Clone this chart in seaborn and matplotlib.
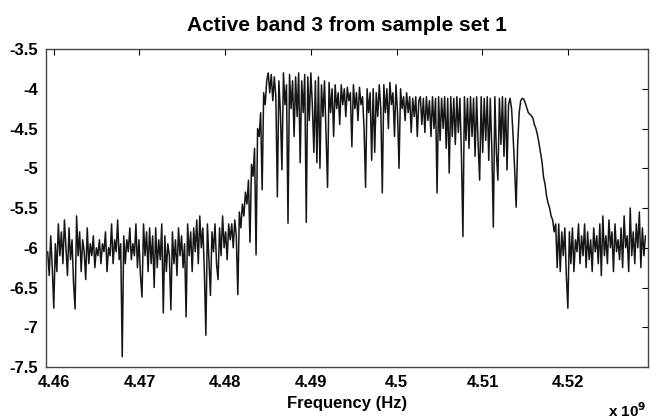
import numpy as np
import pandas as pd
import seaborn as sns
import matplotlib.pyplot as plt
from matplotlib.ticker import FuncFormatter

# frequency sweep (Hz)
freq_start = 4.4593e9
freq_stop = 4.5290e9

noise_left = [
    -6.05, -6.35, -5.85, -6.25, -6.76, -5.95, -6.3, -5.7, -6.1, -5.8,
    -6.2, -5.65, -6.0, -6.35, -5.75, -6.15, -5.9, -6.45, -6.77, -5.6,
    -6.1, -5.8, -6.3, -5.9, -6.05, -6.4, -5.75, -6.2, -5.95, -6.1,
    -5.85, -6.25, -6.0, -6.1, -5.9, -6.2, -5.95, -6.05, -5.8, -6.3,
    -6.0, -6.1, -5.7, -6.2, -5.9, -6.05, -5.65, -6.15, -5.95, -7.37,
    -5.85, -6.2, -5.9, -6.05, -5.75, -6.15, -5.95, -6.1, -5.7, -6.25,
    -5.9, -6.35, -6.62, -5.7, -6.1, -5.8, -6.3, -5.75, -6.2, -5.85,
    -6.5, -5.75, -6.25, -5.9, -6.15, -5.7, -6.82, -5.85, -6.3, -5.95,
    -6.1, -6.78, -5.8, -6.2, -5.9, -6.35, -5.75, -6.1, -5.85, -6.25,
    -5.95, -6.87, -5.7, -6.1, -5.8, -6.3, -5.75, -6.05, -5.65, -6.2,
    -5.6, -6.0, -5.75, -6.3, -7.10, -5.7, -6.15, -6.6, -5.8, -6.05,
    -5.7, -6.2, -6.4, -5.75, -6.1, -5.6, -6.0, -5.8, -6.15, -5.7,
]
rise = [
    -5.9, -5.7, -6.0, -5.65, -5.85, -6.59, -5.55, -5.75, -5.45, -5.6,
    -5.3, -5.45, -5.15, -5.93, -4.95, -5.1, -4.75, -6.09, -4.5, -4.6,
    -4.3, -5.27, -4.05, -4.2, -3.9,
]
band_top = [
    -3.8, -4.05, -3.82, -4.15, -3.85, -4.1, -5.36, -3.9, -4.3, -5.02,
    -3.8, -4.2, -3.95, -5.69, -3.82, -4.25, -3.9, -4.6, -3.85, -4.35,
    -3.8, -4.93, -3.9, -4.3, -3.82, -5.68, -3.85, -4.4, -3.8, -4.2,
    -4.8, -3.9, -4.93, -3.85, -5.0, -3.95, -4.35, -3.9, -4.55, -5.24,
    -3.92, -4.3, -4.0, -4.6, -3.95, -4.25, -4.05, -4.45, -3.95, -4.2,
    -4.0, -4.35, -3.98, -4.15, -4.05, -4.73, -3.95, -4.25, -4.05, -4.4,
    -3.98, -4.2, -4.1, -4.5, -5.24, -4.0, -4.3, -4.05, -4.9, -4.0,
    -4.8, -4.05, -4.35, -3.95, -4.25, -5.31, -3.95, -4.3, -4.0, -4.5,
    -3.92, -4.2, -4.05, -4.6, -3.95, -4.3, -5.0, -4.0, -4.25, -4.1,
    -4.4, -4.05, -4.3, -4.1, -4.55, -4.12, -4.35, -4.1, -4.6, -4.15,
]
comb = [
    -4.1, -4.45, -4.12, -4.55, -4.1, -4.4, -4.15, -4.6, -4.1, -4.5,
    -4.12, -5.31, -4.1, -4.65, -4.12, -4.5, -4.1, -4.75, -4.12, -5.06,
    -4.1, -4.6, -4.12, -4.7, -4.1, -4.55, -4.12, -4.8, -5.86, -4.1,
    -4.65, -4.12, -4.75, -4.1, -4.6, -4.12, -4.85, -4.1, -4.7, -5.15,
    -4.1, -4.8, -4.12, -4.65, -4.1, -4.9, -4.12, -4.75, -5.74, -4.1,
    -4.8, -5.15, -4.12, -4.7, -4.1, -4.85, -4.12, -5.02, -4.2, -4.12,
    -4.25, -4.6, -5.0, -5.49, -4.7, -4.3, -4.15, -4.12, -4.13, -4.18,
    -4.24, -4.3,
]
fall = [
    -4.32, -4.34, -4.37, -4.45, -4.5, -4.58, -4.68, -4.8, -4.92, -5.11,
    -5.2, -5.35, -5.44, -5.5, -5.6, -5.65, -5.8, -5.7,
]
noise_right = [
    -6.25, -5.7, -6.3, -5.8, -6.1, -5.75, -6.35, -6.76, -5.8, -6.2,
    -5.75, -6.3, -5.9, -6.05, -5.7, -6.2, -5.85, -6.1, -5.7, -6.25,
    -5.8, -6.15, -5.9, -6.3, -5.75, -6.05, -5.85, -6.2, -5.7, -6.35,
    -5.6, -6.1, -5.85, -6.2, -5.65, -6.0, -5.8, -6.3, -5.7, -6.05,
    -5.9, -6.15, -5.75, -6.25, -5.6, -6.0, -5.85, -6.3, -5.5, -6.1,
    -5.8, -6.2, -5.7, -6.0, -5.55, -6.25, -5.75, -6.1, -5.85,
]

level = noise_left + rise + band_top + comb + fall + noise_right
freq = np.linspace(freq_start, freq_stop, len(level))
df = pd.DataFrame({'freq': freq, 'level': level})

sns.set_style('white')
plt.rcParams['font.family'] = ['Liberation Sans', 'DejaVu Sans']
plt.rcParams['font.weight'] = 'bold'
plt.rcParams['axes.unicode_minus'] = False
plt.rcParams['text.color'] = 'black'

fig = plt.figure(figsize=(6.56, 4.2), dpi=100)
ax = fig.add_axes([0.0701, 0.1262, 0.9177, 0.7571])

sns.lineplot(data=df, x='freq', y='level', ax=ax, color='#151515',
             linewidth=1.1, estimator=None, sort=False)

ax.set_xlim(4.4591e9, 4.5293e9)
ax.set_ylim(-7.5, -3.5)
ax.set_xticks([4.46e9, 4.47e9, 4.48e9, 4.49e9, 4.50e9, 4.51e9, 4.52e9])
ax.set_yticks(np.arange(-7.5, -3.49, 0.5))
ax.xaxis.set_major_formatter(FuncFormatter(lambda v, p: '%g' % round(v / 1e9, 4)))
ax.yaxis.set_major_formatter(FuncFormatter(lambda v, p: '%g' % v))
ax.tick_params(direction='in', length=4, width=0.8, top=True, right=True,
               labelsize=12, pad=6, colors='black')
for lab in ax.get_xticklabels() + ax.get_yticklabels():
    lab.set_fontweight('bold')
for s in ax.spines.values():
    s.set_color('#444444')
    s.set_linewidth(1.0)

ax.set_xlabel('Frequency (Hz)', fontsize=12, fontweight='bold', labelpad=4, color='black')
ax.set_ylabel('')
ax.set_title('Active band 3 from sample set 1', fontsize=15, fontweight='bold',
             pad=13, color='black')
fig.text(0.927, 0.008, r'x 10$^{\mathbf{9}}$', fontsize=11, fontweight='bold')

fig.savefig('out.png', dpi=100)
